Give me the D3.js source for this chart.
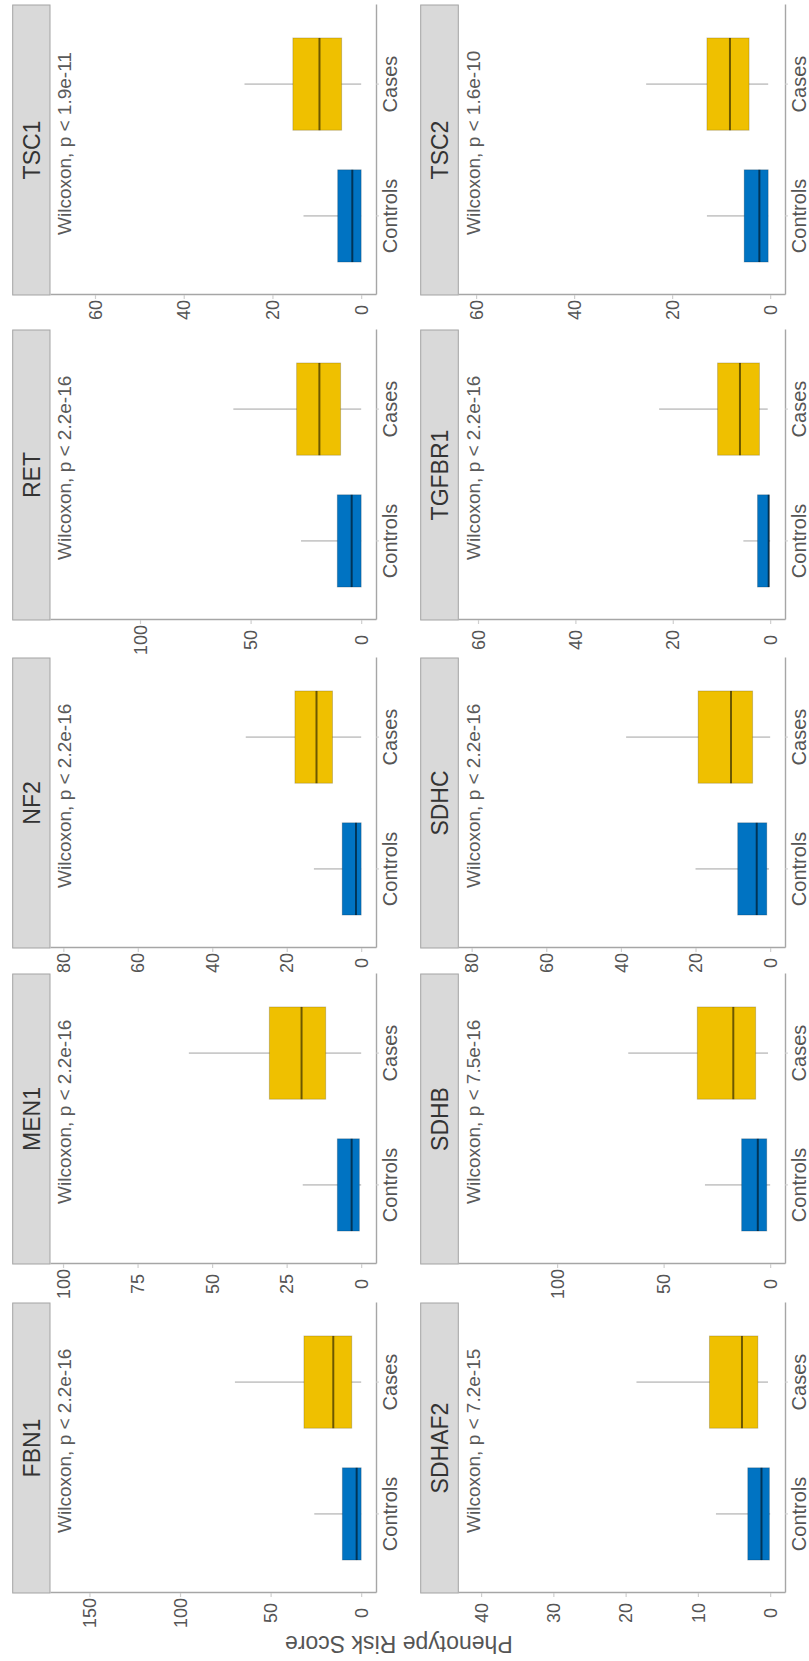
<!DOCTYPE html>
<html>
<head>
<meta charset="utf-8">
<script src="https://cdn.jsdelivr.net/npm/d3@7"></script>
<style>
  body { margin: 0; background: #fff; }
  svg { display: block; }
  text { font-family: "Liberation Sans", Arial, Helvetica, sans-serif; }
</style>
</head>
<body>
<script>
// ---- data -------------------------------------------------------------
const genes  = ["FBN1", "MEN1", "NF2", "RET", "TSC1", "SDHAF2", "SDHB", "SDHC", "TGFBR1", "TSC2"];
const groups = ["Controls", "Cases"];
const pValues = ["2.2e-16", "2.2e-16", "2.2e-16", "2.2e-16", "1.9e-11",
                 "7.2e-15", "7.5e-16", "2.2e-16", "2.2e-16", "1.6e-10"];
// largest Phenotype Risk Score per gene (sets the scale and the label height)
const scoreMax = [163.6, 99.4, 79.6, 134, 66.8, 41.1, 139.4, 79.6, 61, 60.6];
const tickValues = [
  [0, 50, 100, 150], [0, 25, 50, 75, 100], [0, 20, 40, 60, 80], [0, 50, 100], [0, 20, 40, 60],
  [0, 10, 20, 30, 40], [0, 50, 100], [0, 20, 40, 60, 80], [0, 20, 40, 60], [0, 20, 40, 60]
];
// box statistics: [lower whisker, Q1, median, Q3, upper whisker]
const controlStats = [
  [0, 0, 2.5, 10.4, 25.9], [0, 0.6, 3.2, 8.0, 19.6], [0, 0, 1.4, 5.1, 12.7], [0, 0, 4.3, 10.8, 27.2], [0, 0, 2.0, 5.3, 13.0],
  [0, 0.1, 1.2, 3.1, 7.5], [0, 1.6, 5.8, 13.4, 30.6], [0.3, 0.9, 3.6, 8.7, 20.0], [0, 0.2, 0.3, 2.6, 5.5], [0.4, 0.4, 2.2, 5.3, 12.9]
];
const caseStats = [
  [0, 5.2, 15.4, 31.6, 69.7], [0, 11.9, 20.0, 30.8, 57.8], [0, 7.7, 12.0, 17.8, 31.0], [0, 9.3, 18.9, 29.2, 57.8], [0, 4.4, 9.4, 15.4, 26.3],
  [0.3, 1.7, 3.9, 8.4, 18.5], [1, 6.8, 17.3, 34.2, 66.6], [0, 4.7, 10.5, 19.3, 38.6], [0.5, 2.2, 6.2, 10.8, 22.8], [0.4, 4.3, 8.2, 12.9, 25.3]
];
const groupColors = ["#0073C2", "#EFC000"];

// ---- layout -----------------------------------------------------------
const W = 809, H = 1661;
const svg = d3.select("body").append("svg").attr("width", W).attr("height", H);
// the figure is composed in a landscape frame (H wide, W tall) and turned a quarter-turn anticlockwise
const fig = svg.append("g").attr("transform", `translate(0,${H}) rotate(-90)`);

const panelLefts = [68, 397, 713, 1041, 1366];
const panelW = 290;
const rowsLayout = [
  { stripTop: 12.7, top: 50, bottom: 376 },
  { stripTop: 420.7, top: 458.3, bottom: 785 }
];
const tickFont = 18;

// widest tick label in each column decides where that column's labels sit
const colMaxChars = d3.range(5).map(c =>
  d3.max([c, c + 5], i => d3.max(tickValues[i], t => String(t).length)));

genes.forEach((gene, i) => {
  const col = i % 5, row = Math.floor(i / 5);
  const L = rowsLayout[row];
  const left = panelLefts[col];
  const g = fig.append("g");

  const x = d3.scaleBand().domain(groups)
    .range([left, left + panelW]).paddingInner(0.3).paddingOuter(0.25);
  const y = d3.scaleLinear()
    .domain([-0.05 * scoreMax[i], 1.05 * scoreMax[i]])
    .range([L.bottom, L.top]);

  // strip
  g.append("rect")
    .attr("x", left).attr("y", L.stripTop)
    .attr("width", panelW).attr("height", L.top - L.stripTop)
    .attr("fill", "#d9d9d9").attr("stroke", "#a3a3a3").attr("stroke-width", 1);
  g.append("text")
    .attr("x", left + panelW / 2).attr("y", (L.stripTop + L.top) / 2)
    .attr("dy", "0.36em").attr("text-anchor", "middle")
    .attr("font-size", 23).attr("fill", "#333")
    .text(gene);

  // y axis
  const labelOffset = 5 + colMaxChars[col] * 0.556 * tickFont / 2;
  const ya = g.append("g").attr("transform", `translate(${left},0)`)
    .call(d3.axisLeft(y).tickValues(tickValues[i]).tickSize(4).tickSizeOuter(0));
  ya.select(".domain").attr("stroke", "#a6a6a6").attr("stroke-width", 1.4);
  ya.selectAll(".tick line").attr("stroke", "#cfcfcf").attr("stroke-width", 1.2);
  ya.selectAll(".tick text")
    .attr("x", -labelOffset).attr("dy", "0.34em")
    .attr("text-anchor", "middle")
    .attr("font-size", tickFont).attr("fill", "#555")
    .attr("font-family", null);

  // x axis
  const xa = g.append("g").attr("transform", `translate(0,${L.bottom})`)
    .call(d3.axisBottom(x).tickSize(3).tickSizeOuter(0).tickPadding(3.8));
  xa.select(".domain").attr("stroke", "#a6a6a6").attr("stroke-width", 1.4);
  xa.selectAll(".tick line").attr("stroke", "#cfcfcf");
  xa.selectAll(".tick text")
    .attr("font-size", 20).attr("fill", "#555").attr("font-family", null);

  // boxes
  const bw = x.bandwidth();
  groups.forEach((grp, k) => {
    const s = (k === 0 ? controlStats : caseStats)[i];
    const cx = x(grp) + bw / 2;
    g.append("line")
      .attr("x1", cx).attr("x2", cx)
      .attr("y1", y(s[0])).attr("y2", y(s[4]))
      .attr("stroke", "#cacaca").attr("stroke-width", 1.6);
    g.append("rect")
      .attr("x", x(grp)).attr("width", bw)
      .attr("y", y(s[3])).attr("height", y(s[1]) - y(s[3]))
      .attr("fill", groupColors[k])
      .attr("stroke", "rgba(0,0,0,0.18)").attr("stroke-width", 1);
    g.append("line")
      .attr("x1", x(grp)).attr("x2", x(grp) + bw)
      .attr("y1", y(s[2])).attr("y2", y(s[2]))
      .attr("stroke", "rgba(0,0,0,0.55)").attr("stroke-width", 2);
  });

  // test annotation
  g.append("text")
    .attr("x", left + 0.207 * panelW).attr("y", y(scoreMax[i]))
    .attr("dy", "0.35em")
    .attr("font-size", 19).attr("fill", "#5a5a5a")
    .text(`Wilcoxon, p < ${pValues[i]}`);
});

// shared value-axis title
fig.append("text")
  .attr("transform", `translate(25,${(rowsLayout[0].stripTop + rowsLayout[1].bottom) / 2}) rotate(-90)`)
  .attr("text-anchor", "middle")
  .attr("font-size", 23).attr("fill", "#555")
  .text("Phenotype Risk Score");
</script>
</body>
</html>
